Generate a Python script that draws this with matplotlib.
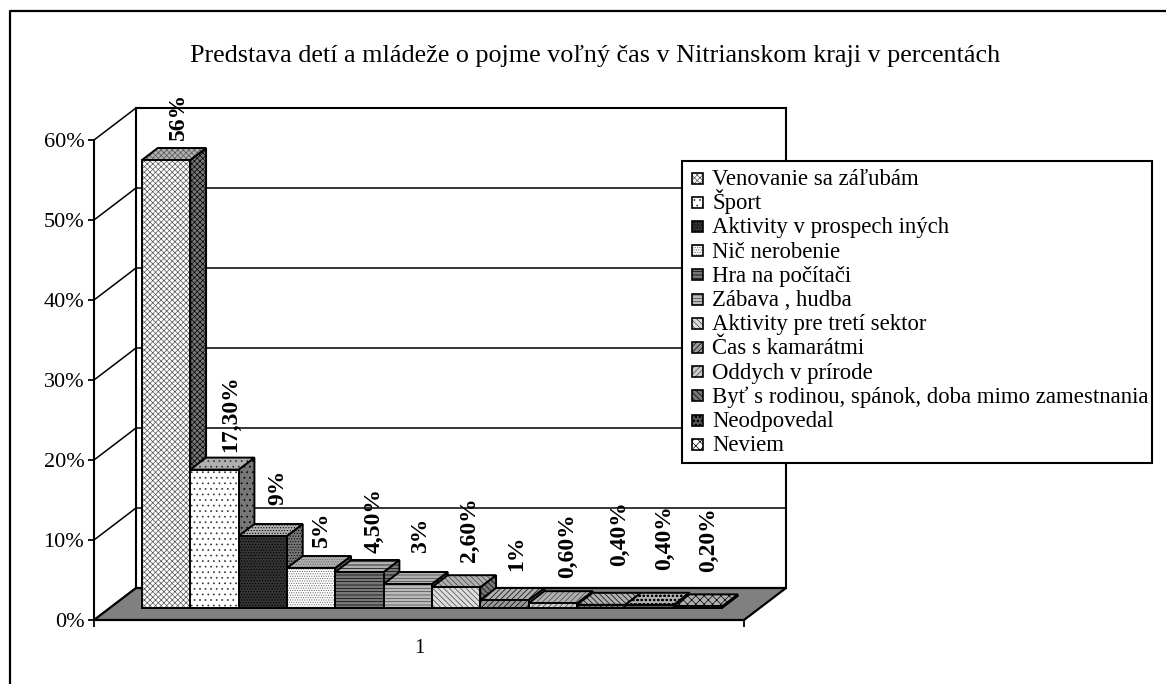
import matplotlib
matplotlib.use('Agg')
from matplotlib import pyplot as plt
from matplotlib.patches import Polygon, Rectangle
from matplotlib.lines import Line2D
from matplotlib.transforms import Affine2D

plt.rcParams['font.family'] = ['Liberation Serif', 'DejaVu Sans']
plt.rcParams['hatch.linewidth'] = 0.5

# data
nazvy = ['Venovanie sa záľubám', 'Šport', 'Aktivity v prospech iných', 'Nič nerobenie',
         'Hra na počítači', 'Zábava , hudba', 'Aktivity pre tretí sektor', 'Čas s kamarátmi',
         'Oddych v prírode', 'Byť s rodinou, spánok, doba mimo zamestnania', 'Neodpovedal', 'Neviem']
hodnoty = [56, 17.3, 9, 5, 4.5, 3, 2.6, 1, 0.6, 0.4, 0.4, 0.2]
popisky = ['56%', '17,30%', '9%', '5%', '4,50%', '3%', '2,60%', '1%', '0,60%', '0,40%', '0,40%', '0,20%']
y_ticks = [0, 10, 20, 30, 40, 50, 60]
y_labels = ['0%', '10%', '20%', '30%', '40%', '50%', '60%']
kategoria = ['1']

# styles per bar: (front colour, hatch colour, hatch)
vzory = [('white', '#555555', 'xxxxxx'),
         ('white', '#333333', '...'),
         ('#333333', 'black', '......'),
         ('white', '#666666', '.......'),
         ('#777777', 'black', '-----'),
         ('#bbbbbb', '#444444', '-----'),
         ('#dddddd', '#444444', '\\\\\\\\\\\\'),
         ('#999999', 'black', '//////'),
         ('#cccccc', '#444444', '//////'),
         ('#777777', 'black', '\\\\\\\\\\\\'),
         ('#555555', 'black', 'oooo'),
         ('white', 'black', 'XXXX')]
# lift and shift of each rotated label against the bar, px
zdvih = [8, 6, 19, 9, 7, 19, 13, 17, 13, 27, 23, 22]
posun = [-3, 0, -1, -5, -1, -3, -2, -4, -1, 3, -1, -5]

W, H = 1166, 684
PX_X = 48.33   # px per bar
PX_Y = 8.0     # px per percent
DX, DY = 42.0, 32.0   # depth of the chart box, px
GAP = 32.25    # from axis start to first bar, px
X_MAX = 650 / PX_X
Y_MAX = y_ticks[-1]
D_X = DX / PX_X
D_Y = DY / PX_Y

fig = plt.figure(figsize=(W / 100, H / 100), dpi=100)
# pixel coords from the top left corner, for frame and legend
pix = Affine2D().scale(1 / W, -1 / H).translate(0, 1) + fig.transFigure

# outer frame, only top and left are in the picture
fig.add_artist(Line2D([9.5, 9.5, W], [H, 11, 11], transform=pix, color='black', lw=1.6, zorder=-1))

ax = fig.add_axes([94 / W, 1 - 620 / H, 650 / W, 481 / H], facecolor='none')
ax.set_xlim(0, X_MAX)
ax.set_ylim(0, 481 / PX_Y)


def proj(x, y, d):
    # oblique projection, d is depth 0 (front) to 1 (back)
    return x + d * D_X, y + d * D_Y


def poly(body, **kw):
    p = Polygon([proj(*b) for b in body], closed=True, clip_on=False, **kw)
    ax.add_patch(p)
    return p


def plocha(body, fc, hc, hatch, z):
    poly(body, facecolor=fc, edgecolor=hc, hatch=hatch, lw=0, zorder=z)
    poly(body, fill=False, edgecolor='black', lw=1.4, zorder=z + 0.01)


# floor and walls
poly([(0, 0, 0), (X_MAX, 0, 0), (X_MAX, 0, 1), (0, 0, 1)], facecolor='#808080', edgecolor='black', lw=1.6, zorder=2)
for t in y_ticks:
    xs, ys = zip(proj(0, t, 0), proj(0, t, 1), proj(X_MAX, t, 1))
    ax.plot(xs, ys, color='black', lw=1.1, clip_on=False, zorder=1)
for x0 in [0, X_MAX]:
    xs, ys = zip(proj(x0, 0, 1), proj(x0, Y_MAX, 1))
    ax.plot(xs, ys, color='black', lw=1.5, clip_on=False, zorder=1)
xs, ys = zip(proj(0, Y_MAX, 1), proj(X_MAX, Y_MAX, 1))
ax.plot(xs, ys, color='black', lw=1.5, clip_on=False, zorder=1)

# bars
d0, d1 = 0.375, 0.75
start = GAP / PX_X
for i, v in enumerate(hodnoty):
    x0 = start + i
    x1 = x0 + 1
    fc, hc, ha = vzory[i]
    z = 3 + i
    # side, top, front
    plocha([(x1, 0, d0), (x1, 0, d1), (x1, v, d1), (x1, v, d0)], '#777777', 'black', ha, z)
    plocha([(x0, v, d0), (x1, v, d0), (x1, v, d1), (x0, v, d1)], '#b0b0b0', hc, ha, z + 0.1)
    plocha([(x0, 0, d0), (x1, 0, d0), (x1, v, d0), (x0, v, d0)], fc, hc, ha, z + 0.2)
    lx, ly = proj(x0 + 0.5, v, d1)
    ax.annotate(popisky[i], (lx, ly), xytext=(posun[i] * 0.72, zdvih[i] * 0.72), textcoords='offset points',
                rotation=90, ha='center', va='bottom', fontsize=17, fontweight='bold',
                annotation_clip=False, zorder=30)

# axes
for s in ['top', 'right', 'bottom']:
    ax.spines[s].set_visible(False)
ax.spines['left'].set_linewidth(1.5)
ax.spines['left'].set_bounds(0, Y_MAX)
ax.set_yticks(y_ticks)
ax.set_yticklabels(y_labels, fontsize=16)
ax.tick_params(axis='y', length=4, width=1.3, pad=3)
ax.set_xticks([0, X_MAX])
ax.set_xticklabels(['', ''])
ax.tick_params(axis='x', length=5, width=1.3)
ax.set_xticks([X_MAX / 2], kategoria, minor=True, fontsize=15)
ax.tick_params(axis='x', which='minor', length=0, pad=14)

fig.text(595 / W, 1 - 56 / H, 'Predstava detí a mládeže o pojme voľný čas v Nitrianskom kraji v percentách',
         ha='center', va='center', fontsize=18.8)

# legend, rows at a fixed pitch
fig.add_artist(Rectangle((682, 161), 470, 302, transform=pix, fc='white', ec='black', lw=1.5, zorder=5))
for i, n in enumerate(nazvy):
    yy = 178 + i * 24.2
    fc, hc, ha = vzory[i]
    fig.add_artist(Rectangle((692, yy - 5.5), 11, 11, transform=pix, fc=fc, ec=hc, hatch=ha, lw=0, zorder=6))
    fig.add_artist(Rectangle((692, yy - 5.5), 11, 11, transform=pix, fill=False, ec='black', lw=1.2, zorder=6.1))
    fig.text(712 / W, 1 - (yy + 7) / H, n, ha='left', va='baseline', fontsize=16.4, zorder=7)

fig.savefig('out.png', dpi=100)
